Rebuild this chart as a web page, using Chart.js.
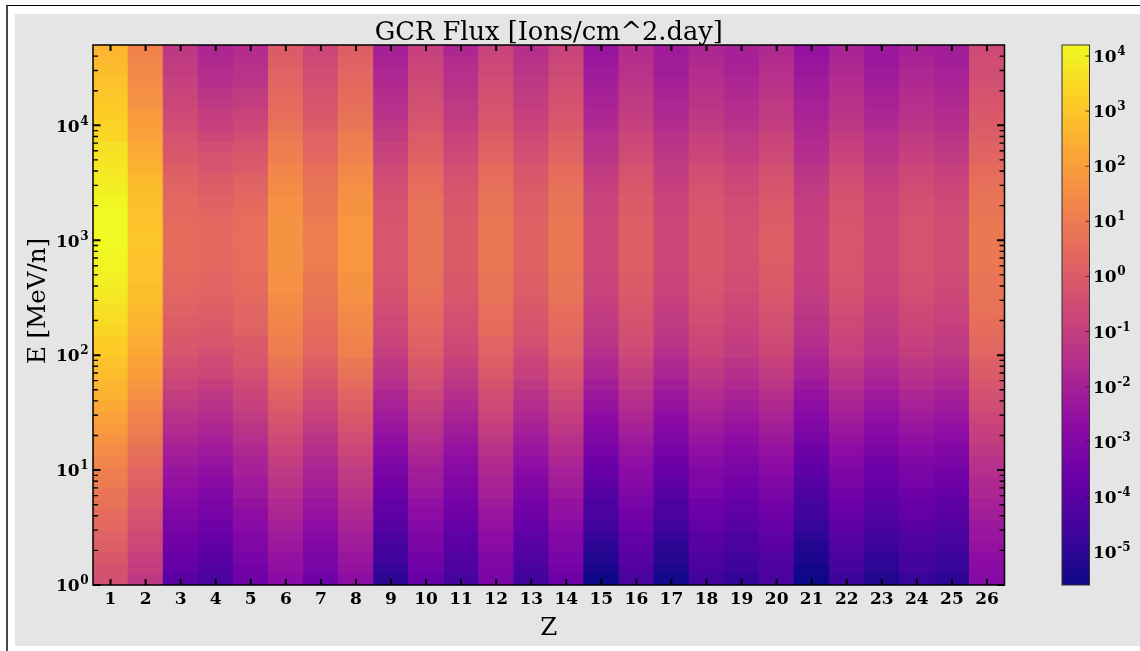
<!DOCTYPE html>
<html>
<head>
<meta charset="utf-8">
<title>GCR Flux</title>
<script src="https://cdn.jsdelivr.net/npm/chart.js@4/dist/chart.umd.min.js"></script>
<style>
  html, body { margin: 0; padding: 0; width: 1140px; height: 651px; overflow: hidden; background: #ffffff; }
  #frame { position: absolute; left: 6px; top: 5px; width: 1140px; height: 660px;
           border-top: 1px solid #000; border-left: 2px solid #4a4a4a; box-sizing: border-box; }
  #panel { position: absolute; left: 15px; top: 14px; width: 1125px; height: 632px; background: #e5e5e5; }
  #c { position: absolute; left: 0; top: 0; }
</style>
</head>
<body>
<div id="frame"></div>
<div id="panel"></div>
<canvas id="c" width="1140" height="651"></canvas>
<script>
// Atomic number categories (x axis)
const zLabels = ['1','2','3','4','5','6','7','8','9','10','11','12','13',
                 '14','15','16','17','18','19','20','21','22','23','24','25','26'];

// Energy bin edges [MeV/n], 50 log-spaced bins from 1 to 5e4
const energyEdges = [1, 1.2416, 1.5416, 1.9141, 2.3766, 2.9508, 3.6637, 4.5489, 5.648, 7.0126,
  8.707, 10.811, 13.423, 16.666, 20.693, 25.693, 31.901, 39.609, 49.179, 61.061,
  75.815, 94.132, 116.88, 145.11, 180.18, 223.71, 277.77, 344.88, 428.21, 531.67,
  660.13, 819.62, 1017.0, 1263.6, 1568.9, 1946.6, 2416.8, 3000.8, 3725.7, 4626.0,
  5743.3, 7131.0, 8854.0, 10992, 13652, 16949, 21046, 26130, 32442, 40276, 50000];

// Decade exponents for the tick labels
const yTickExps = [0, 1, 2, 3, 4];
const cbarTickExps = [-5, -4, -3, -2, -1, 0, 1, 2, 3, 4];
// Colour-scale limits (log10 of flux)
const cbarLogMin = -5.6;
const cbarLogMax = 4.2;

// log10 flux [ions/cm^2.day] per energy bin (low -> high energy), one list per element
const logH  = [-0.4,-0.3,-0.1,0.1,0.2,0.4,0.5,0.7,0.8,1.0, 1.1,1.3,1.5,1.7,1.9,2.1,2.3,2.5,2.6,2.8, 2.9,3.1,3.2,3.4,3.5,3.6,3.8,3.9,4.0,4.1, 4.1,4.2,4.2,4.2,4.2,4.1,4.0,3.9,3.8,3.7, 3.6,3.4,3.3,3.2,3.1,3.0,2.9,2.8,2.7,2.6];
const logHe = [-1.2,-1.0,-0.9,-0.7,-0.6,-0.4,-0.3,-0.1,0.0,0.2, 0.3,0.5,0.7,0.9,1.1,1.2,1.4,1.6,1.8,2.0, 2.1,2.3,2.4,2.5,2.6,2.7,2.8,2.8,2.9,2.9, 2.9,3.0,3.0,2.9,2.9,2.8,2.8,2.7,2.5,2.4, 2.3,2.1,2.0,1.9,1.7,1.6,1.5,1.4,1.3,1.2];
const logLi = [-4.0,-3.8,-3.7,-3.5,-3.4,-3.2,-3.0,-2.9,-2.7,-2.5, -2.4,-2.2,-2.0,-1.8,-1.6,-1.4,-1.2,-1.0,-0.8,-0.6, -0.4,-0.2,-0.1,0.0,0.1,0.2,0.3,0.4,0.4,0.5, 0.5,0.5,0.5,0.5,0.4,0.4,0.3,0.2,0.1,-0.1, -0.2,-0.3,-0.5,-0.6,-0.7,-0.8,-0.9,-1.0,-1.1,-1.2];
const logBe = [-4.4,-4.2,-4.0,-3.9,-3.7,-3.5,-3.3,-3.2,-3.0,-2.8, -2.6,-2.4,-2.2,-2.0,-1.8,-1.6,-1.4,-1.2,-1.0,-0.7, -0.6,-0.4,-0.2,-0.1,0.0,0.1,0.2,0.3,0.3,0.4, 0.4,0.4,0.4,0.4,0.3,0.2,0.1,0.0,-0.2,-0.3, -0.5,-0.7,-0.9,-1.0,-1.2,-1.3,-1.5,-1.6,-1.7,-1.8];
const logB  = [-3.5,-3.4,-3.3,-3.1,-3.0,-2.8,-2.7,-2.5,-2.3,-2.2, -2.0,-1.9,-1.7,-1.5,-1.3,-1.1,-0.9,-0.8,-0.6,-0.4, -0.2,-0.1,0.0,0.2,0.3,0.3,0.4,0.5,0.5,0.6, 0.6,0.6,0.6,0.6,0.5,0.4,0.3,0.2,0.0,-0.1, -0.3,-0.5,-0.7,-0.8,-1.0,-1.1,-1.3,-1.4,-1.5,-1.6];
const logC  = [-2.8,-2.6,-2.5,-2.3,-2.2,-2.0,-1.8,-1.7,-1.5,-1.3, -1.2,-1.0,-0.8,-0.6,-0.4,-0.2,0.0,0.2,0.4,0.6, 0.8,1.0,1.1,1.2,1.3,1.4,1.5,1.6,1.6,1.7, 1.7,1.7,1.7,1.7,1.6,1.6,1.5,1.4,1.3,1.1, 1.0,0.9,0.7,0.6,0.5,0.4,0.3,0.2,0.1,0.0];
const logN  = [-3.5,-3.3,-3.2,-3.0,-2.9,-2.7,-2.5,-2.4,-2.2,-2.0, -1.9,-1.7,-1.5,-1.3,-1.1,-0.9,-0.7,-0.5,-0.3,-0.1, 0.1,0.3,0.4,0.5,0.6,0.7,0.8,0.9,0.9,1.0, 1.0,1.0,1.0,1.0,0.9,0.9,0.8,0.7,0.6,0.4, 0.3,0.2,0.0,-0.1,-0.2,-0.3,-0.4,-0.5,-0.6,-0.7];
const logO  = [-2.7,-2.5,-2.4,-2.2,-2.1,-1.9,-1.7,-1.6,-1.4,-1.2, -1.1,-0.9,-0.7,-0.5,-0.3,-0.1,0.1,0.3,0.5,0.7, 0.9,1.1,1.2,1.3,1.4,1.5,1.6,1.7,1.7,1.8, 1.8,1.8,1.8,1.8,1.7,1.7,1.6,1.5,1.4,1.2, 1.1,1.0,0.8,0.7,0.6,0.5,0.4,0.3,0.2,0.1];
const logF  = [-5.0,-4.8,-4.6,-4.5,-4.3,-4.1,-3.9,-3.8,-3.6,-3.4, -3.2,-3.0,-2.8,-2.6,-2.4,-2.2,-2.0,-1.8,-1.6,-1.3, -1.2,-1.0,-0.8,-0.7,-0.6,-0.5,-0.4,-0.3,-0.3,-0.2, -0.2,-0.2,-0.2,-0.2,-0.3,-0.3,-0.4,-0.5,-0.6,-0.8, -0.9,-1.1,-1.2,-1.4,-1.5,-1.6,-1.7,-1.8,-1.9,-2.0];
const logNe = [-3.7,-3.5,-3.4,-3.2,-3.1,-2.9,-2.7,-2.6,-2.4,-2.2, -2.1,-1.9,-1.7,-1.5,-1.3,-1.1,-0.9,-0.7,-0.5,-0.3, -0.1,0.1,0.2,0.3,0.4,0.5,0.6,0.7,0.7,0.8, 0.8,0.8,0.8,0.8,0.7,0.7,0.6,0.5,0.4,0.2, 0.1,0.0,-0.2,-0.3,-0.4,-0.5,-0.6,-0.7,-0.8,-0.9];
const logNa = [-4.5,-4.3,-4.2,-4.0,-3.9,-3.7,-3.5,-3.4,-3.2,-3.0, -2.9,-2.7,-2.5,-2.3,-2.1,-1.9,-1.7,-1.5,-1.3,-1.1, -0.9,-0.7,-0.6,-0.5,-0.4,-0.3,-0.2,-0.1,-0.1,0.0, 0.0,0.0,0.0,0.0,-0.1,-0.1,-0.2,-0.3,-0.4,-0.6, -0.7,-0.8,-1.0,-1.1,-1.2,-1.3,-1.4,-1.5,-1.6,-1.8];
const logMg = [-3.2,-3.1,-3.0,-2.8,-2.7,-2.5,-2.4,-2.2,-2.0,-1.9, -1.7,-1.6,-1.4,-1.2,-1.0,-0.8,-0.6,-0.5,-0.3,-0.1, 0.1,0.2,0.3,0.5,0.6,0.6,0.7,0.8,0.8,0.9, 0.9,0.9,0.9,0.9,0.8,0.8,0.7,0.6,0.5,0.3, 0.2,0.1,-0.1,-0.2,-0.3,-0.4,-0.5,-0.6,-0.7,-0.8];
const logAl = [-4.6,-4.4,-4.2,-4.1,-3.9,-3.7,-3.5,-3.4,-3.2,-3.0, -2.8,-2.6,-2.4,-2.2,-2.0,-1.8,-1.6,-1.4,-1.2,-0.9, -0.8,-0.6,-0.4,-0.3,-0.2,-0.1,0.0,0.1,0.1,0.2, 0.2,0.2,0.2,0.2,0.1,0.1,0.0,-0.1,-0.2,-0.4, -0.5,-0.6,-0.8,-0.9,-1.0,-1.1,-1.2,-1.3,-1.4,-1.5];
const logSi = [-3.6,-3.4,-3.3,-3.1,-3.0,-2.8,-2.6,-2.5,-2.3,-2.1, -2.0,-1.8,-1.6,-1.4,-1.2,-1.0,-0.8,-0.6,-0.4,-0.2, 0.0,0.2,0.3,0.4,0.5,0.6,0.7,0.8,0.8,0.9, 0.9,0.9,0.9,0.9,0.8,0.8,0.7,0.6,0.5,0.3, 0.2,0.1,-0.1,-0.2,-0.3,-0.4,-0.5,-0.6,-0.7,-0.8];
const logP  = [-5.6,-5.4,-5.2,-5.0,-4.8,-4.6,-4.4,-4.3,-4.1,-3.9, -3.7,-3.5,-3.3,-3.1,-2.9,-2.7,-2.5,-2.3,-2.1,-1.8, -1.7,-1.5,-1.3,-1.2,-1.1,-1.0,-0.9,-0.8,-0.8,-0.7, -0.7,-0.7,-0.7,-0.7,-0.8,-0.8,-0.9,-1.0,-1.1,-1.3, -1.4,-1.5,-1.7,-1.8,-1.9,-2.0,-2.1,-2.2,-2.3,-2.4];
const logS  = [-4.4,-4.2,-4.1,-3.9,-3.8,-3.6,-3.4,-3.3,-3.1,-2.9, -2.8,-2.6,-2.4,-2.2,-2.0,-1.8,-1.6,-1.4,-1.2,-1.0, -0.8,-0.6,-0.5,-0.4,-0.3,-0.2,-0.1,0.0,0.0,0.1, 0.1,0.1,0.1,0.1,0.0,0.0,-0.1,-0.2,-0.3,-0.5, -0.6,-0.7,-0.9,-1.0,-1.1,-1.2,-1.3,-1.4,-1.5,-1.6];
const logCl = [-5.5,-5.3,-5.1,-5.0,-4.8,-4.6,-4.4,-4.3,-4.1,-3.9, -3.7,-3.5,-3.3,-3.1,-2.9,-2.7,-2.5,-2.3,-2.1,-1.8, -1.7,-1.5,-1.3,-1.2,-1.1,-1.0,-0.9,-0.8,-0.8,-0.7, -0.7,-0.7,-0.7,-0.7,-0.8,-0.8,-0.9,-1.0,-1.1,-1.2, -1.3,-1.4,-1.6,-1.7,-1.8,-1.9,-2.0,-2.1,-2.1,-2.2];
const logAr = [-4.6,-4.4,-4.3,-4.1,-4.0,-3.8,-3.6,-3.5,-3.3,-3.1, -3.0,-2.8,-2.6,-2.4,-2.2,-2.0,-1.8,-1.6,-1.4,-1.2, -1.0,-0.8,-0.7,-0.6,-0.5,-0.4,-0.3,-0.2,-0.2,-0.1, -0.1,-0.1,-0.1,-0.1,-0.2,-0.2,-0.3,-0.4,-0.5,-0.7, -0.8,-0.9,-1.1,-1.2,-1.3,-1.4,-1.5,-1.6,-1.7,-1.8];
const logK  = [-4.9,-4.7,-4.6,-4.4,-4.3,-4.1,-3.9,-3.8,-3.6,-3.4, -3.3,-3.1,-2.9,-2.7,-2.5,-2.3,-2.1,-1.9,-1.7,-1.5, -1.3,-1.1,-1.0,-0.9,-0.8,-0.7,-0.6,-0.5,-0.5,-0.4, -0.4,-0.4,-0.4,-0.4,-0.5,-0.5,-0.6,-0.7,-0.8,-1.0, -1.1,-1.2,-1.4,-1.5,-1.6,-1.7,-1.8,-1.9,-2.0,-2.0];
const logCa = [-4.4,-4.3,-4.2,-4.0,-3.9,-3.7,-3.5,-3.4,-3.2,-3.0, -2.8,-2.7,-2.5,-2.3,-2.1,-1.9,-1.7,-1.5,-1.3,-1.1, -0.9,-0.7,-0.6,-0.5,-0.4,-0.3,-0.2,-0.1,0.0,0.0, 0.1,0.1,0.1,0.0,0.0,-0.1,-0.2,-0.3,-0.4,-0.6, -0.7,-0.8,-1.0,-1.1,-1.2,-1.3,-1.4,-1.5,-1.6,-1.7];
const logSc = [-5.6,-5.5,-5.3,-5.2,-5.0,-4.8,-4.6,-4.5,-4.3,-4.1, -3.9,-3.7,-3.5,-3.3,-3.1,-2.9,-2.7,-2.5,-2.3,-2.0, -1.9,-1.7,-1.5,-1.4,-1.3,-1.2,-1.1,-1.0,-1.0,-0.9, -0.9,-0.9,-0.9,-0.9,-1.0,-1.0,-1.1,-1.2,-1.3,-1.5, -1.6,-1.7,-1.8,-1.9,-2.0,-2.1,-2.2,-2.3,-2.4,-2.5];
const logTi = [-4.7,-4.5,-4.4,-4.2,-4.1,-3.9,-3.7,-3.6,-3.4,-3.2, -3.1,-2.9,-2.7,-2.5,-2.3,-2.1,-1.9,-1.7,-1.5,-1.3, -1.1,-0.9,-0.8,-0.7,-0.6,-0.5,-0.4,-0.3,-0.3,-0.2, -0.2,-0.2,-0.2,-0.2,-0.3,-0.3,-0.4,-0.5,-0.6,-0.8, -0.9,-1.0,-1.2,-1.3,-1.4,-1.5,-1.6,-1.7,-1.8,-1.9];
const logV  = [-5.2,-5.0,-4.9,-4.7,-4.6,-4.4,-4.2,-4.1,-3.9,-3.7, -3.6,-3.4,-3.2,-3.0,-2.8,-2.6,-2.4,-2.2,-2.0,-1.8, -1.6,-1.4,-1.3,-1.2,-1.1,-1.0,-0.9,-0.8,-0.8,-0.7, -0.7,-0.7,-0.7,-0.7,-0.8,-0.8,-0.9,-1.0,-1.1,-1.3, -1.4,-1.5,-1.7,-1.8,-1.9,-2.0,-2.1,-2.2,-2.3,-2.3];
const logCr = [-4.8,-4.6,-4.5,-4.3,-4.2,-4.0,-3.8,-3.7,-3.5,-3.3, -3.2,-3.0,-2.8,-2.6,-2.4,-2.2,-2.0,-1.8,-1.6,-1.4, -1.2,-1.0,-0.9,-0.8,-0.7,-0.6,-0.5,-0.4,-0.4,-0.3, -0.3,-0.3,-0.3,-0.3,-0.4,-0.4,-0.5,-0.6,-0.7,-0.9, -1.0,-1.1,-1.3,-1.4,-1.5,-1.6,-1.7,-1.8,-1.9,-2.0];
const logMn = [-5.0,-4.8,-4.7,-4.5,-4.4,-4.2,-4.0,-3.9,-3.7,-3.5, -3.4,-3.2,-3.0,-2.8,-2.6,-2.4,-2.2,-2.0,-1.8,-1.6, -1.4,-1.2,-1.1,-1.0,-0.9,-0.8,-0.7,-0.6,-0.6,-0.5, -0.5,-0.5,-0.5,-0.5,-0.6,-0.6,-0.7,-0.8,-0.9,-1.1, -1.2,-1.3,-1.5,-1.6,-1.7,-1.8,-1.9,-2.0,-2.1,-2.1];
const logFe = [-2.9,-2.8,-2.7,-2.5,-2.4,-2.3,-2.1,-2.0,-1.8,-1.7, -1.5,-1.4,-1.2,-1.0,-0.9,-0.7,-0.5,-0.4,-0.2,0.0, 0.1,0.3,0.4,0.5,0.6,0.7,0.7,0.8,0.8,0.9, 0.9,0.9,0.9,0.9,0.8,0.8,0.7,0.6,0.5,0.3, 0.2,0.1,0.0,-0.1,-0.2,-0.3,-0.4,-0.5,-0.5,-0.6];

const logFluxByZ = [logH, logHe, logLi, logBe, logB, logC, logN, logO, logF, logNe, logNa, logMg, logAl,
                    logSi, logP, logS, logCl, logAr, logK, logCa, logSc, logTi, logV, logCr, logMn, logFe];

// Plasma colormap anchor colours
const plasmaStops = ['#0d0887', '#41049d', '#6a00a8', '#8f0da4', '#b12a90', '#cc4778',
                     '#e16462', '#f2844b', '#fca636', '#fcce25', '#f0f921'];
const plasmaRgb = plasmaStops.map(h => [1, 3, 5].map(i => parseInt(h.substr(i, 2), 16)));

function plasma(t) {
  t = Math.min(1, Math.max(0, t));
  const n = plasmaRgb.length - 1;
  const s = t * n;
  const i = Math.min(n - 1, Math.floor(s));
  const f = s - i;
  const a = plasmaRgb[i], b = plasmaRgb[i + 1];
  const c = a.map((v, k) => Math.round(v + (b[k] - v) * f));
  return `rgb(${c[0]},${c[1]},${c[2]})`;
}
function colourFor(logValue) {
  return plasma((logValue - cbarLogMin) / (cbarLogMax - cbarLogMin));
}

// One floating-bar dataset per energy bin: every Z column gets the bin [lo, hi]
const rowDatasets = energyEdges.slice(0, -1).map((lo, j) => ({
  label: 'E bin ' + (j + 1),
  data: zLabels.map(() => [lo, energyEdges[j + 1]]),
  backgroundColor: logFluxByZ.map(col => colourFor(col[j]))
}));

const SERIF = '"DejaVu Serif", "Liberation Serif", serif';
const TICK_FONT = 'bold 17px ' + SERIF;
const SUP_FONT = 'bold 12px ' + SERIF;
const TITLE_FONT = '25.7px ' + SERIF;
const LABEL_FONT = '24.5px ' + SERIF;

function drawPower(ctx, exp, x, baseline, align) {
  const base = '10', sup = String(exp);
  ctx.font = TICK_FONT;
  const wb = ctx.measureText(base).width;
  ctx.font = SUP_FONT;
  const ws = ctx.measureText(sup).width;
  const gap = 0.5;
  const x0 = align === 'right' ? x - (wb + gap + ws) : x;
  ctx.textAlign = 'left';
  ctx.textBaseline = 'alphabetic';
  ctx.font = TICK_FONT;
  ctx.fillText(base, x0, baseline);
  ctx.font = SUP_FONT;
  ctx.fillText(sup, x0 + wb + gap, baseline - 7);
}

// Frame, inward ticks, labels, titles and colour bar
const decor = {
  id: 'decor',
  afterDraw(chart) {
    const { ctx, chartArea: a, scales } = chart;
    const xs = scales.x, ys = scales.y, cs = scales.cbar;
    ctx.save();
    ctx.strokeStyle = '#000';
    ctx.fillStyle = '#000';

    // minor y ticks (both sides)
    ctx.lineWidth = 1.4;
    ctx.beginPath();
    for (const k of yTickExps) {
      for (let m = 2; m <= 9; m++) {
        const v = m * Math.pow(10, k);
        if (v >= ys.max) continue;
        const py = ys.getPixelForValue(v);
        ctx.moveTo(a.left, py); ctx.lineTo(a.left + 5, py);
        ctx.moveTo(a.right, py); ctx.lineTo(a.right - 5, py);
      }
    }
    ctx.stroke();

    // major y ticks
    ctx.lineWidth = 2;
    ctx.beginPath();
    for (const k of yTickExps) {
      const py = ys.getPixelForValue(Math.pow(10, k));
      ctx.moveTo(a.left, py); ctx.lineTo(a.left + 7.5, py);
      ctx.moveTo(a.right, py); ctx.lineTo(a.right - 7.5, py);
    }
    ctx.stroke();

    // x ticks (top and bottom, pointing in)
    ctx.lineWidth = 2;
    ctx.beginPath();
    zLabels.forEach((z, i) => {
      const px = xs.getPixelForValue(i);
      ctx.moveTo(px, a.top); ctx.lineTo(px, a.top + 6);
      ctx.moveTo(px, a.bottom); ctx.lineTo(px, a.bottom - 6);
    });
    ctx.stroke();

    // axes frame
    ctx.lineWidth = 1.5;
    ctx.strokeRect(a.left, a.top, a.right - a.left, a.bottom - a.top);

    // x tick labels
    ctx.font = TICK_FONT;
    ctx.textAlign = 'center';
    ctx.textBaseline = 'alphabetic';
    zLabels.forEach((z, i) => ctx.fillText(z, xs.getPixelForValue(i), a.bottom + 19));

    // y tick labels
    for (const k of yTickExps) {
      drawPower(ctx, k, a.left - 4.5, ys.getPixelForValue(Math.pow(10, k)) + 6.3, 'right');
    }

    // title and axis titles
    ctx.textAlign = 'center';
    ctx.textBaseline = 'alphabetic';
    const cx = (a.left + a.right) / 2;
    ctx.font = TITLE_FONT;
    ctx.fillText('GCR Flux [Ions/cm^2.day]', cx, a.top - 5.5);
    ctx.font = LABEL_FONT;
    ctx.fillText('Z', cx, 634.5);
    ctx.save();
    ctx.translate(44.5, 301);
    ctx.rotate(-Math.PI / 2);
    ctx.fillText('E [MeV/n]', 0, 0);
    ctx.restore();

    // colour bar
    const cbL = 1062, cbR = 1089.5;
    const cbTop = cs.getPixelForValue(Math.pow(10, cbarLogMax));
    const cbBot = cs.getPixelForValue(Math.pow(10, cbarLogMin));
    const grad = ctx.createLinearGradient(0, cbBot, 0, cbTop);
    plasmaStops.forEach((c, i) => grad.addColorStop(i / (plasmaStops.length - 1), c));
    ctx.fillStyle = grad;
    ctx.fillRect(cbL, cbTop, cbR - cbL, cbBot - cbTop);
    ctx.strokeStyle = '#333';
    ctx.lineWidth = 1;
    ctx.strokeRect(cbL, cbTop, cbR - cbL, cbBot - cbTop);
    ctx.strokeStyle = 'rgba(40,20,20,0.75)';
    ctx.beginPath();
    for (const k of cbarTickExps) {
      const py = cs.getPixelForValue(Math.pow(10, k));
      ctx.moveTo(cbR - 4, py); ctx.lineTo(cbR, py);
    }
    ctx.stroke();
    ctx.fillStyle = '#000';
    for (const k of cbarTickExps) {
      drawPower(ctx, k, 1093, cs.getPixelForValue(Math.pow(10, k)) + 6, 'left');
    }
    ctx.restore();
  }
};

new Chart(document.getElementById('c'), {
  type: 'bar',
  data: { labels: zLabels, datasets: rowDatasets },
  options: {
    responsive: false,
    animation: false,
    events: [],
    layout: { padding: { left: 93, top: 45, right: 135.5, bottom: 66 } },
    datasets: { bar: { grouped: false, barPercentage: 1, categoryPercentage: 1, borderWidth: 0 } },
    plugins: { legend: { display: false }, tooltip: { enabled: false }, title: { display: false } },
    scales: {
      x: { type: 'category', display: false, offset: true },
      y: { type: 'logarithmic', display: false, min: 1, max: 50000 },
      cbar: { type: 'logarithmic', axis: 'y', position: 'right', display: false,
              min: Math.pow(10, cbarLogMin), max: Math.pow(10, cbarLogMax) }
    }
  },
  plugins: [decor]
});
</script>
</body>
</html>
